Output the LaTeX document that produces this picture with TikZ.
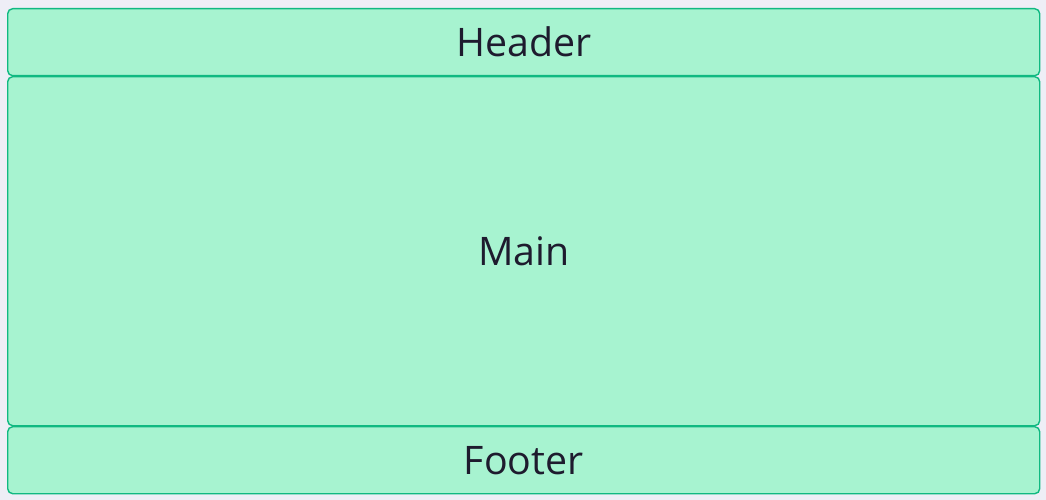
\documentclass[tikz,border=0pt]{standalone}
\usepackage{fontspec}
\setmainfont{Open Sans}
\definecolor{bg}{HTML}{EEEEF6}
\definecolor{boxfill}{HTML}{A7F3D0}
\definecolor{boxline}{HTML}{10B981}
\definecolor{txt}{HTML}{1E1B2E}
\begin{document}
\begin{tikzpicture}[x=1pt,y=-1pt,
  region/.style={draw=boxline,fill=boxfill,line width=1.4pt,rounded corners=5pt,
    inner sep=0pt,text=txt,font=\fontsize{39.3}{42}\selectfont}]
\fill[bg] (0,0) rectangle (1046,500);
\useasboundingbox (0,0) rectangle (1046,500);
\node[region,minimum width=1032pt,minimum height=67pt,anchor=north west] (header) at (7,8) {Header};
\node[region,minimum width=1032pt,minimum height=349pt,anchor=north west] (main) at (7,76) {Main};
\node[region,minimum width=1032pt,minimum height=67pt,anchor=north west] (footer) at (7,426) {Footer};
\end{tikzpicture}
\end{document}
